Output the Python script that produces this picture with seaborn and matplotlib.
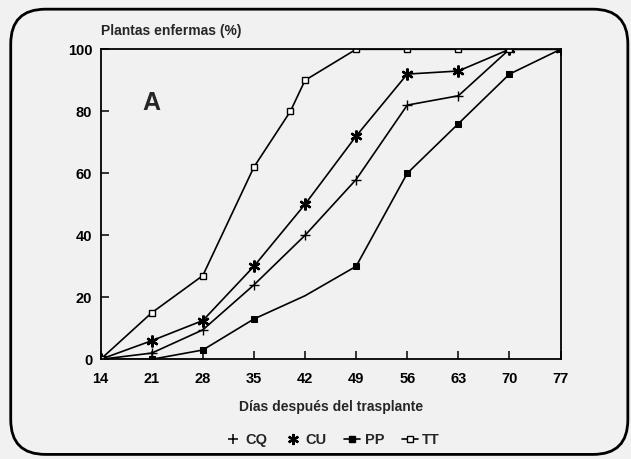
import matplotlib
matplotlib.use("Agg")
import matplotlib.pyplot as plt
from matplotlib.lines import Line2D
from matplotlib.patches import FancyBboxPatch
import numpy as np
import pandas as pd
import seaborn as sns

# Days after transplanting and percentage of diseased plants per treatment
days = [14, 21, 28, 35, 42, 49, 56, 63, 70, 77]
cq = [0, 2, 9.5, 24, 40, 58, 82, 85, 100, 100]
cu = [0, 6, 12.5, 30, 50, 72, 92, 93, 100, 100]
pp = [0, 0, 3, 13, 20.5, 30, 60, 76, 92, 100]
tt_days = [14, 21, 28, 35, 40, 42, 49, 56, 63, 70]
tt = [0, 15, 27, 62, 80, 90, 100, 100, 100, 100]

x_ticks = [14, 21, 28, 35, 42, 49, 56, 63, 70, 77]
y_ticks = [0, 20, 40, 60, 80, 100]

sns.set_style("ticks")
plt.rcParams["font.family"] = ["Liberation Sans", "DejaVu Sans"]

bg = "#f1f1f1"
fig = plt.figure(figsize=(6.31, 4.59), dpi=100, facecolor=bg)
ax = fig.add_axes([0.1594, 0.2172, 0.729, 0.6754])
ax.set_facecolor("none")

# rounded frame around the whole panel
frame = FancyBboxPatch((0.017, 0.010), 0.978, 0.970,
                       boxstyle="round,pad=0,rounding_size=0.055",
                       transform=fig.transFigure, fill=False,
                       edgecolor="black", linewidth=2.0, zorder=0,
                       mutation_aspect=631 / 459)
fig.patches.append(frame)

lw = 1.2
asterisk = (6, 2, 0)
sns.lineplot(x=days, y=cq, ax=ax, color="black", linewidth=lw,
             marker="+", markersize=7, markeredgewidth=1.0, markeredgecolor="black")
sns.lineplot(x=days, y=cu, ax=ax, color="black", linewidth=lw,
             marker=asterisk, markersize=8.5, markeredgewidth=1.7, markeredgecolor="black")
pp_marks = [i for i in range(len(days)) if days[i] != 42]
sns.lineplot(x=days, y=pp, ax=ax, color="black", linewidth=lw,
             marker="s", markersize=4.5, markerfacecolor="black", markeredgecolor="black",
             markevery=pp_marks)
sns.lineplot(x=tt_days, y=tt, ax=ax, color="black", linewidth=lw,
             marker="s", markersize=4.5, markerfacecolor="white", markeredgecolor="black",
             markeredgewidth=1.0)

ax.set_xlim(14, 77)
ax.set_ylim(0, 100)
ax.set_xticks(x_ticks)
ax.set_yticks(y_ticks)
ax.tick_params(direction="in", length=6, width=1.1, labelsize=10.5, colors="black")
ax.tick_params(axis="x", pad=9)
ax.tick_params(axis="y", pad=6)
for lab in ax.get_xticklabels() + ax.get_yticklabels():
    lab.set_fontweight("bold")
for s in ax.spines.values():
    s.set_linewidth(1.3)
    s.set_color("black")

ax.set_xlabel("Días después del trasplante", fontsize=10, fontweight="bold", labelpad=10)
ax.set_ylabel("")
ax.text(0.0, 1.035, "Plantas enfermas (%)", transform=ax.transAxes,
        fontsize=10, fontweight="bold", ha="left", va="bottom")
ax.text(0.111, 0.827, "A", transform=ax.transAxes, fontsize=18,
        fontweight="bold", ha="center", va="center")

handles = [
    Line2D([], [], color="black", linestyle="none", marker="+", markersize=7,
           markeredgewidth=1.1),
    Line2D([], [], color="black", linestyle="none", marker=asterisk, markersize=8,
           markeredgewidth=1.7),
    Line2D([], [], color="black", linewidth=lw, marker="s", markersize=4.5,
           markerfacecolor="black"),
    Line2D([], [], color="black", linewidth=lw, marker="s", markersize=4.5,
           markerfacecolor="white"),
]
fig.legend(handles, ["CQ", "CU", "PP", "TT"], loc="center",
           bbox_to_anchor=(0.527, 0.042), ncol=4, frameon=False,
           prop={"size": 10.5, "weight": "bold"}, handlelength=1.1,
           handletextpad=0.3, columnspacing=1.2)

fig.savefig("out.png", dpi=100, facecolor=bg)
